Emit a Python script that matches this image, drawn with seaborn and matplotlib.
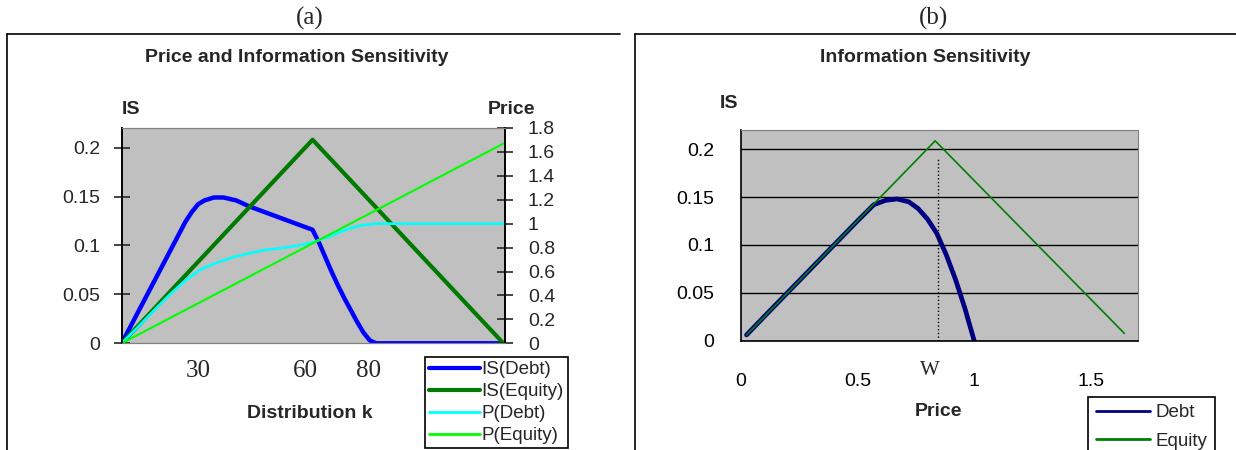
import matplotlib
matplotlib.use("Agg")
import matplotlib.pyplot as plt
import matplotlib.transforms as mtransforms
from matplotlib.lines import Line2D
from matplotlib.ticker import FuncFormatter
import seaborn as sns

sns.set_style("white")
plt.rcParams['font.family'] = ['Liberation Sans', 'DejaVu Sans']

# --- dados painel (a): Price and Information Sensitivity vs distribution k ---
k_is_debt = [0, 5, 10, 15, 20, 22, 24, 26, 29, 32, 36, 40, 45, 50, 55, 60,
             62, 64, 66, 68, 70, 72, 74, 76, 78, 80, 120]
is_debt = [0, 0.031, 0.062, 0.093, 0.124, 0.134, 0.142, 0.146, 0.149, 0.149,
           0.146, 0.140, 0.134, 0.128, 0.122, 0.116, 0.103, 0.088, 0.073,
           0.059, 0.046, 0.034, 0.022, 0.011, 0.003, 0, 0]
k_is_equity = [0, 60, 120]
is_equity = [0, 0.208, 0]
k_p_debt = [0, 5, 10, 15, 20, 25, 30, 35, 40, 45, 50, 55, 60, 65, 70, 75, 80, 120]
p_debt = [0, 0.133, 0.27, 0.405, 0.525, 0.62, 0.675, 0.72, 0.752, 0.78,
          0.795, 0.815, 0.843, 0.89, 0.945, 0.985, 1.0, 1.0]
k_p_equity = [0, 120]
p_equity = [0, 1.67]
k_ticks = [30, 60, 80]

# --- dados painel (b): Information Sensitivity vs price ---
price_debt = [0.025, 0.1, 0.2, 0.3, 0.4, 0.5, 0.57, 0.62, 0.67, 0.72, 0.76,
              0.8, 0.84, 0.88, 0.92, 0.96, 1.0]
is_debt_b = [0.006, 0.025, 0.05, 0.075, 0.1, 0.125, 0.142, 0.1465, 0.148,
             0.145, 0.138, 0.127, 0.112, 0.09, 0.064, 0.034, 0]
price_equity = [0.025, 0.833, 1.643]
is_equity_b = [0.006, 0.2087, 0.0077]
w_price = 0.843
w_top = 0.19

W, H = 1236, 450
fig = plt.figure(figsize=(W / 100, H / 100), dpi=100)


def fx(x):
    return x / W


def fy(y):
    return 1 - y / H


gray = '#c0c0c0'
fmt = FuncFormatter(lambda v, p: f"{v:g}")

# molduras dos dois graficos
for x0, x1 in [(7, 620), (635, 1240)]:
    fig.add_artist(Line2D([fx(x0), fx(x1)], [fy(34), fy(34)], color='black', lw=1.2))
    fig.add_artist(Line2D([fx(x0), fx(x0)], [fy(34), fy(455)], color='black', lw=1.2))

fig.text(fx(310), fy(18), "(a)", family='Liberation Serif', fontsize=18, ha='center', va='center')
fig.text(fx(934), fy(18), "(b)", family='Liberation Serif', fontsize=18, ha='center', va='center')

# ---------------- painel (a) ----------------
ax = fig.add_axes([fx(121.7), fy(343.3), fx(505 - 121.7), (343.3 - 128) / H])
ax.set_facecolor(gray)
sns.lineplot(x=k_is_debt, y=is_debt, ax=ax, color='#0000ff', linewidth=3.2)
sns.lineplot(x=k_is_equity, y=is_equity, ax=ax, color='#007a00', linewidth=3.0)
ax.set_xlim(0, 120.5)
ax.set_ylim(0, 0.22)
ax.set_yticks([0, 0.05, 0.1, 0.15, 0.2])
ax.yaxis.set_major_formatter(fmt)
ax.set_xticks(k_ticks)
ax.set_xticklabels([str(t) for t in k_ticks], family='Liberation Serif', fontsize=18)
ax.tick_params(axis='x', length=0, pad=12)
ax.tick_params(axis='y', direction='inout', length=11, width=1.2, labelsize=14, pad=10)

ax2 = ax.twinx()
sns.lineplot(x=k_p_debt, y=p_debt, ax=ax2, color='#00ffff', linewidth=1.9)
sns.lineplot(x=k_p_equity, y=p_equity, ax=ax2, color='#00ff00', linewidth=1.5)
ax2.set_ylim(0, 1.8)
ax2.set_yticks([0, 0.2, 0.4, 0.6, 0.8, 1.0, 1.2, 1.4, 1.6, 1.8])
ax2.yaxis.set_major_formatter(fmt)
ax2.tick_params(axis='y', direction='inout', length=11, width=1.2, labelsize=14, pad=11)

for a in (ax, ax2):
    a.spines['left'].set_color('black')
    a.spines['right'].set_color('black')
    a.spines['left'].set_linewidth(1.2)
    a.spines['right'].set_linewidth(1.2)
    a.spines['top'].set_color('#808080')
    a.spines['bottom'].set_color('#808080')
    a.set_xlabel("")
    a.set_ylabel("")

for lab, dx in zip(ax.get_xticklabels(), [-19, -7, -8]):
    lab.set_transform(lab.get_transform() + mtransforms.ScaledTranslation(dx / 100, 0, fig.dpi_scale_trans))

ax.set_xlabel("Distribution k", fontsize=14, fontweight='bold', va='center')
ax.xaxis.set_label_coords(0.49, -0.328)
ax.text(0.0, 1.084, "IS", transform=ax.transAxes, fontsize=14, fontweight='bold', ha='left', va='center')
ax.text(0.956, 1.084, "Price", transform=ax.transAxes, fontsize=14, fontweight='bold', ha='left', va='center')
fig.text(fx(296.5), fy(58), "Price and Information Sensitivity", fontsize=14, fontweight='bold',
         ha='center', va='center')

handles_a = [Line2D([], [], color='#0000ff', lw=3.0), Line2D([], [], color='#007a00', lw=3.0),
             Line2D([], [], color='#00ffff', lw=2.0), Line2D([], [], color='#00ff00', lw=2.0)]
leg_a = fig.legend(handles_a, ["IS(Debt)", "IS(Equity)", "P(Debt)", "P(Equity)"],
                   loc='upper left', bbox_to_anchor=(fx(425), fy(357)), fontsize=13.5,
                   frameon=True, fancybox=False, edgecolor='black', framealpha=1,
                   handlelength=2.7, handletextpad=0.1, labelspacing=0.26, borderpad=0.22,
                   borderaxespad=0)
leg_a.get_frame().set_linewidth(1.2)

# ---------------- painel (b) ----------------
bx = fig.add_axes([fx(740.7), fy(340.7), fx(1138.3 - 740.7), (340.7 - 130) / H])
bx.set_facecolor(gray)
bx.set_axisbelow(True)
bx.grid(axis='y', color='black', linewidth=1.0)
bx.grid(axis='x', visible=False)
sns.lineplot(x=price_debt, y=is_debt_b, ax=bx, color='#000080', linewidth=3.4)
sns.lineplot(x=price_equity, y=is_equity_b, ax=bx, color='#008000', linewidth=1.2)
bx.vlines(w_price, 0, w_top, colors='black', linestyles=':', linewidth=1.0)
bx.set_xlim(0, 1.703)
bx.set_ylim(0, 0.22)
bx.set_xticks([0, 0.5, 1, 1.5])
bx.set_yticks([0, 0.05, 0.1, 0.15, 0.2])
bx.xaxis.set_major_formatter(fmt)
bx.yaxis.set_major_formatter(fmt)
bx.tick_params(axis='both', direction='out', length=6, width=1.2, labelsize=14, colors='black')
bx.tick_params(axis='x', pad=17)
bx.tick_params(axis='y', pad=13)
bx.spines['left'].set_color('black')
bx.spines['bottom'].set_color('black')
bx.spines['left'].set_linewidth(1.2)
bx.spines['bottom'].set_linewidth(1.2)
bx.spines['top'].set_color('#808080')
bx.spines['right'].set_color('#808080')
bx.set_ylabel("")
bx.set_xlabel("Price", fontsize=14, fontweight='bold', va='center')
bx.xaxis.set_label_coords(0.4987, -0.334)
bx.text(-0.0294, 1.128, "IS", transform=bx.transAxes, fontsize=14, fontweight='bold', ha='center', va='center')
bx.text(0.476, -0.14, "W", transform=bx.transAxes, family='Liberation Serif', fontsize=15,
        ha='center', va='center')
fig.text(fx(925), fy(58), "Information Sensitivity", fontsize=14, fontweight='bold',
         ha='center', va='center')

handles_b = [Line2D([], [], color='#000080', lw=2.0), Line2D([], [], color='#008000', lw=2.0)]
leg_b = fig.legend(handles_b, ["Debt", "Equity"], loc='upper left',
                   bbox_to_anchor=(fx(1088), fy(396.7)), fontsize=13.5,
                   frameon=True, fancybox=False, edgecolor='black', framealpha=1,
                   handlelength=2.9, handletextpad=0.3, labelspacing=0.6, borderpad=0.4,
                   borderaxespad=0)
leg_b.get_frame().set_linewidth(1.2)

fig.savefig("out.png", dpi=100)
